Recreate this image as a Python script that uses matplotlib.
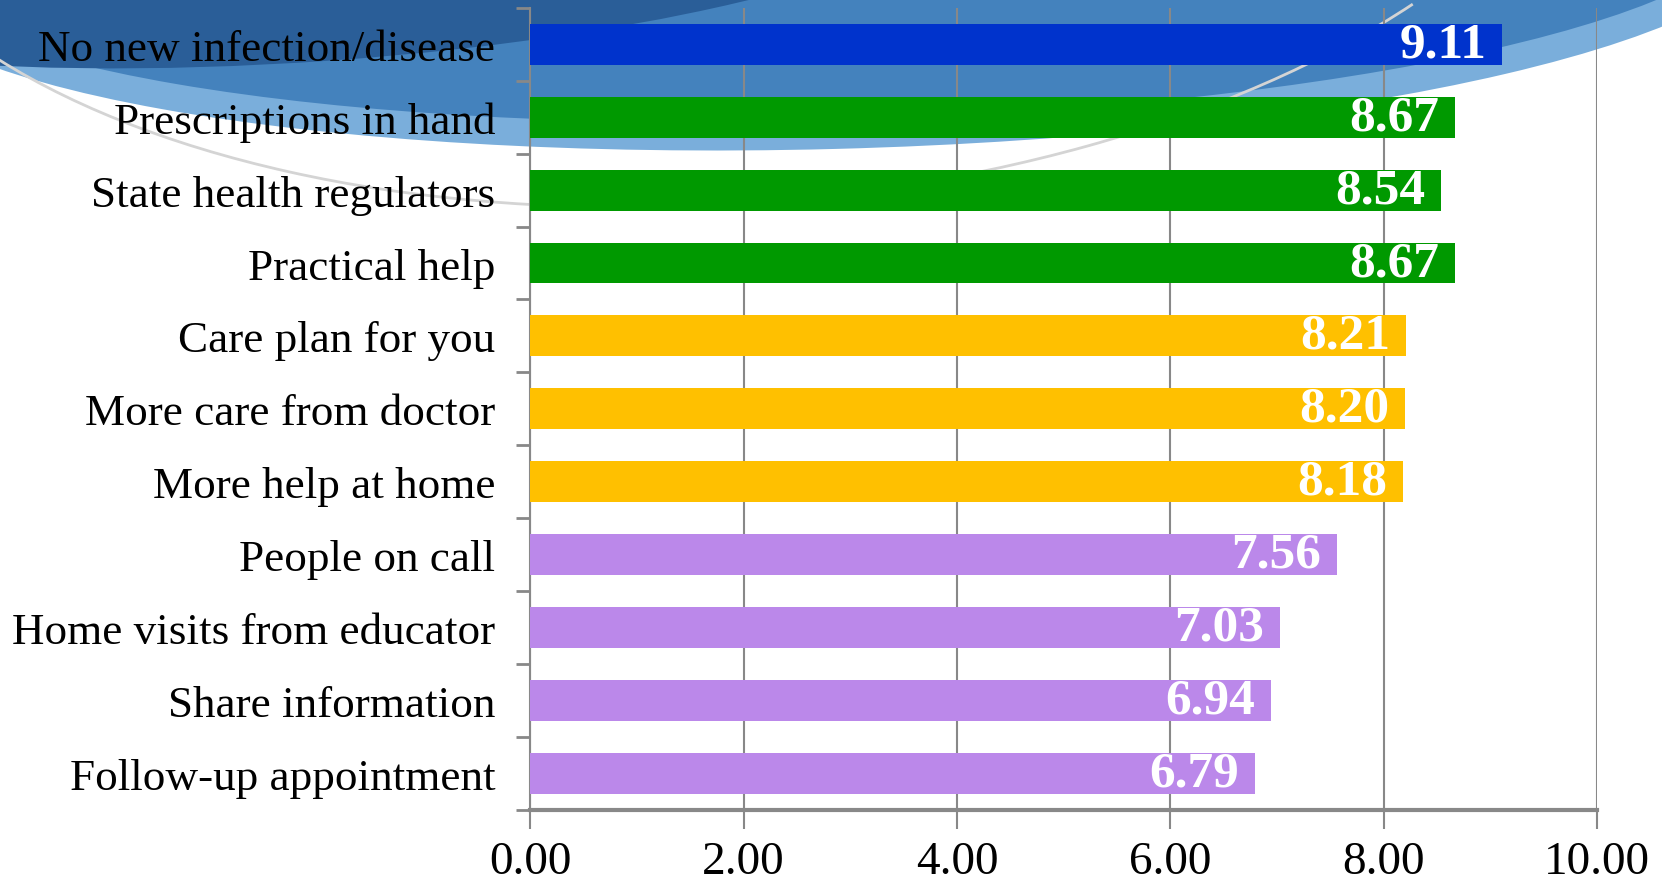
import matplotlib
matplotlib.use('Agg')
import matplotlib.pyplot as plt
import matplotlib.ticker as ticker
from matplotlib.patches import Ellipse, Arc
import numpy as np

# Datos del gráfico (de arriba hacia abajo)
categorias = ['No new infection/disease', 'Prescriptions in hand', 'State health regulators',
              'Practical help', 'Care plan for you', 'More care from doctor', 'More help at home',
              'People on call', 'Home visits from educator', 'Share information',
              'Follow-up appointment']
valores = [9.11, 8.67, 8.54, 8.67, 8.21, 8.20, 8.18, 7.56, 7.03, 6.94, 6.79]
grupos = ['top', 'high', 'high', 'high', 'mid', 'mid', 'mid', 'low', 'low', 'low', 'low']
colores_grupo = {'top': '#0033CC', 'high': '#009900', 'mid': '#FFC000', 'low': '#BB88EA'}
ticks_x = [0, 2, 4, 6, 8, 10]

plt.rcParams['font.family'] = ['Liberation Serif', 'DejaVu Serif']

fig = plt.figure(figsize=(16.62, 8.87), dpi=100)

# Fondo decorativo de la plantilla (en pulgadas, detrás de los ejes)
tr = fig.dpi_scale_trans
fig.patches.append(Ellipse((8.3, 9.33), 19.0, 3.92, angle=1.5, transform=tr,
                           facecolor='#7aaedb', edgecolor='none', zorder=-3))
fig.patches.append(Ellipse((8.3, 9.50), 18.6, 3.7, angle=1.5, transform=tr,
                           facecolor='#4482bd', edgecolor='none', zorder=-3))
fig.patches.append(Ellipse((3.2, 9.55), 13.0, 2.6, angle=4, transform=tr,
                           facecolor='#2a5e98', edgecolor='none', zorder=-3))
fig.patches.append(Arc((7.2, 11.34), 18.0, 9.04, angle=4, theta1=198, theta2=336, transform=tr,
                       color='#d4d4d4', lw=2, zorder=-2))

ax = fig.add_axes([0.319, 0.086, 0.642, 0.904])
ax.patch.set_alpha(0)

y = np.arange(len(categorias))
cols = [colores_grupo[g] for g in grupos]
bars = ax.barh(y, valores, height=0.56, color=cols, zorder=3)

# Etiqueta de valor dentro de cada barra
for b, v in zip(bars, valores):
    ax.text(b.get_width() - 0.15, b.get_y() + b.get_height() / 2, f"{v:.2f}",
            ha='right', va='center', color='white', fontsize=37, fontweight='bold', zorder=4)

ax.set_ylim(len(categorias) - 0.5, -0.5)
ax.set_xlim(0, 10)
ax.set_yticks(y)
ax.set_yticklabels(categorias, fontsize=32.5)
ax.yaxis.set_minor_locator(ticker.FixedLocator(np.arange(-0.5, len(categorias), 1)))
ax.tick_params(axis='y', which='major', length=0, pad=25)
ax.tick_params(axis='y', which='minor', length=10, width=2, color='#888888')
ax.set_xticks(ticks_x)
ax.xaxis.set_major_formatter(ticker.StrMethodFormatter("{x:.2f}"))
ax.tick_params(axis='x', labelsize=34, length=14, width=1.5, color='#888888', pad=8)

ax.grid(axis='x', color='#888888', lw=1.5, zorder=1)
for s in ['top', 'right']:
    ax.spines[s].set_visible(False)
ax.spines['left'].set_color('#888888')
ax.spines['left'].set_linewidth(1.5)
ax.spines['bottom'].set_color('#888888')
ax.spines['bottom'].set_linewidth(3)

fig.savefig('out.png', dpi=100)
